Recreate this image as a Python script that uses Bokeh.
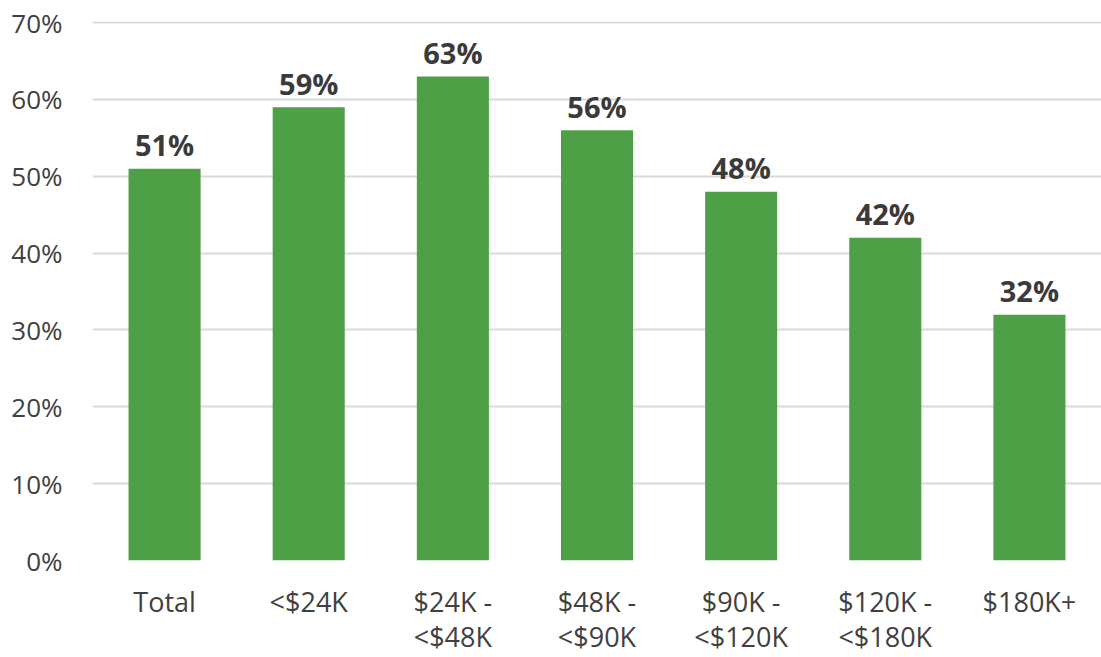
from bokeh.plotting import figure
from bokeh.models import ColumnDataSource, FixedTicker, NumeralTickFormatter, Range1d
from bokeh.core.properties import value
from bokeh.embed import file_html
from bokeh.resources import INLINE

categories = ["Total", "<$24K", "$24K -\n<$48K", "$48K -\n<$90K", "$90K -\n<$120K", "$120K -\n<$180K", "$180K+"]
values = [0.51, 0.59, 0.63, 0.56, 0.48, 0.42, 0.32]
bar_labels = ["51%", "59%", "63%", "56%", "48%", "42%", "32%"]
y_ticks = [0, 0.1, 0.2, 0.3, 0.4, 0.5, 0.6, 0.7]

FONT = "Open Sans"
TEXT = "#404040"

src = ColumnDataSource(dict(cat=categories, val=values, lab=bar_labels))

p = figure(x_range=categories, y_range=Range1d(0, 0.7015), width=1101, height=657,
           output_backend="svg", toolbar_location=None,
           min_border_left=92, min_border_right=0, min_border_top=21, min_border_bottom=97)
p.outline_line_color = None
p.background_fill_color = "white"
p.border_fill_color = "white"

p.vbar(x="cat", top="val", width=0.5, source=src, color="#4ea046", line_color=None)
p.text(x="cat", y="val", text="lab", source=src, text_align="center", text_baseline="alphabetic",
       y_offset=-24, text_font=value(FONT), text_font_style="bold", text_font_size="29px",
       text_color="#3a3a3a")

p.xgrid.grid_line_color = None
p.ygrid.grid_line_color = "#d9d9d9"
p.ygrid.grid_line_width = 2

p.yaxis.ticker = FixedTicker(ticks=y_ticks)
p.yaxis.formatter = NumeralTickFormatter(format="0%")
for ax in (p.xaxis[0], p.yaxis[0]):
    ax.axis_line_color = None
    ax.major_tick_line_color = None
    ax.minor_tick_line_color = None
    ax.major_tick_out = 0
    ax.major_label_text_font = FONT
    ax.major_label_text_color = TEXT
p.yaxis.major_label_text_font_size = "26px"
p.xaxis.major_label_text_font_size = "27px"
p.xaxis.major_label_text_line_height = 0.95
p.yaxis.major_label_standoff = 30
p.xaxis.major_label_standoff = 22

open("out.html", "w").write(file_html(p, INLINE))
